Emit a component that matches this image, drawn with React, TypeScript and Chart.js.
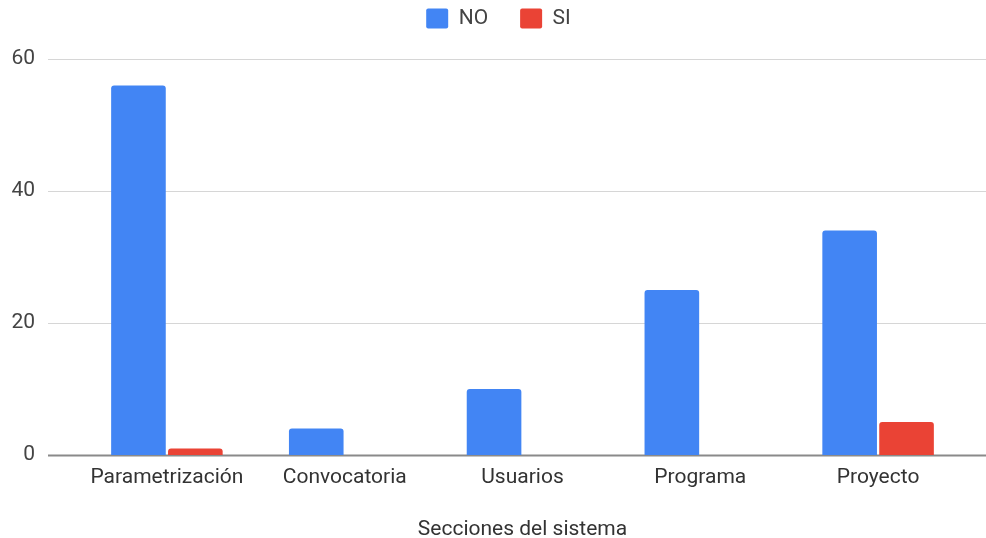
import React, { useEffect, useRef } from "react";
import { Chart, registerables } from "chart.js";

Chart.register(...registerables);

const categories = ["Parametrización", "Convocatoria", "Usuarios", "Programa", "Proyecto"];
const noValues = [56, 4, 10, 25, 34];
const siValues = [1, 0, 0, 0, 5];
const yTicks = [0, 20, 40, 60];
const xTitle = "Secciones del sistema";

const FONT = "Roboto, Arial, sans-serif";

const gridPlugin = {
  id: "extendedGrid",
  beforeDatasetsDraw(chart: any) {
    const { ctx, chartArea } = chart;
    const y = chart.scales.y;
    ctx.save();
    y.ticks.forEach((t: any) => {
      const py = Math.round(y.getPixelForValue(t.value)) + 0.5;
      ctx.beginPath();
      ctx.lineWidth = t.value === 0 ? 2 : 1;
      ctx.strokeStyle = t.value === 0 ? "#8a8a8a" : "#d6d6d6";
      ctx.moveTo(chartArea.left - 30, py);
      ctx.lineTo(chart.width, py);
      ctx.stroke();
    });
    ctx.restore();
  },
};

const legendSpacer = {
  id: "legendSpacer",
  beforeInit(chart: any) {
    const legend = chart.legend;
    if (!legend) return;
    const orig = legend.fit;
    legend.fit = function () {
      orig.call(legend);
      legend.height = 83;
    };
  },
  afterLayout(chart: any) {
    const legend = chart.legend;
    if (!legend) return;
    legend.left += 15;
    legend.right += 15;
  },
};

export default function App() {
  const ref = useRef<HTMLCanvasElement | null>(null);
  useEffect(() => {
    if (!ref.current) return;
    const chart = new Chart(ref.current, {
      type: "bar",
      data: {
        labels: categories,
        datasets: [
          {
            label: "NO",
            data: noValues,
            backgroundColor: "#4285F4",
            borderRadius: { topLeft: 3, topRight: 3, bottomLeft: 0, bottomRight: 0 },
            borderSkipped: false,
            categoryPercentage: 0.64,
            barPercentage: 0.96,
          },
          {
            label: "SI",
            data: siValues,
            backgroundColor: "#EA4335",
            borderRadius: { topLeft: 3, topRight: 3, bottomLeft: 0, bottomRight: 0 },
            borderSkipped: false,
            categoryPercentage: 0.64,
            barPercentage: 0.96,
          },
        ],
      },
      options: {
        animation: false,
        responsive: true,
        maintainAspectRatio: false,
        layout: { padding: { left: 0, right: 19, top: -24, bottom: 0 } },
        plugins: {
          legend: {
            position: "top",
            labels: {
              boxWidth: 22,
              boxHeight: 20,
              padding: 32,
              color: "#444",
              font: { family: FONT, size: 21 },
              useBorderRadius: true,
              borderRadius: 2,
            },
          },
          tooltip: { enabled: false },
        },
        scales: {
          x: {
            afterFit: (s: any) => {
              s.height = 83;
            },
            grid: { display: false },
            border: { display: false },
            ticks: { color: "#333", font: { family: FONT, size: 21 }, padding: 2 },
            title: {
              display: true,
              text: xTitle,
              color: "#333",
              font: { family: FONT, size: 21, lineHeight: 0.8 },
              padding: { top: 0, bottom: 0 },
            },
          },
          y: {
            min: 0,
            max: 60,
            afterFit: (s: any) => {
              s.width = 78;
            },
            afterBuildTicks: (s: any) => {
              s.ticks = yTicks.map((v) => ({ value: v }));
            },
            grid: { display: false, drawTicks: false },
            border: { display: false },
            ticks: { color: "#444", font: { family: FONT, size: 21 }, padding: 43 },
          },
        },
      },
      plugins: [legendSpacer, gridPlugin],
    });
    return () => chart.destroy();
  }, []);
  return (
    <div style={{ position: "fixed", left: 0, top: 0, width: 986, height: 538, background: "#fff" }}>
      <canvas ref={ref} />
    </div>
  );
}
